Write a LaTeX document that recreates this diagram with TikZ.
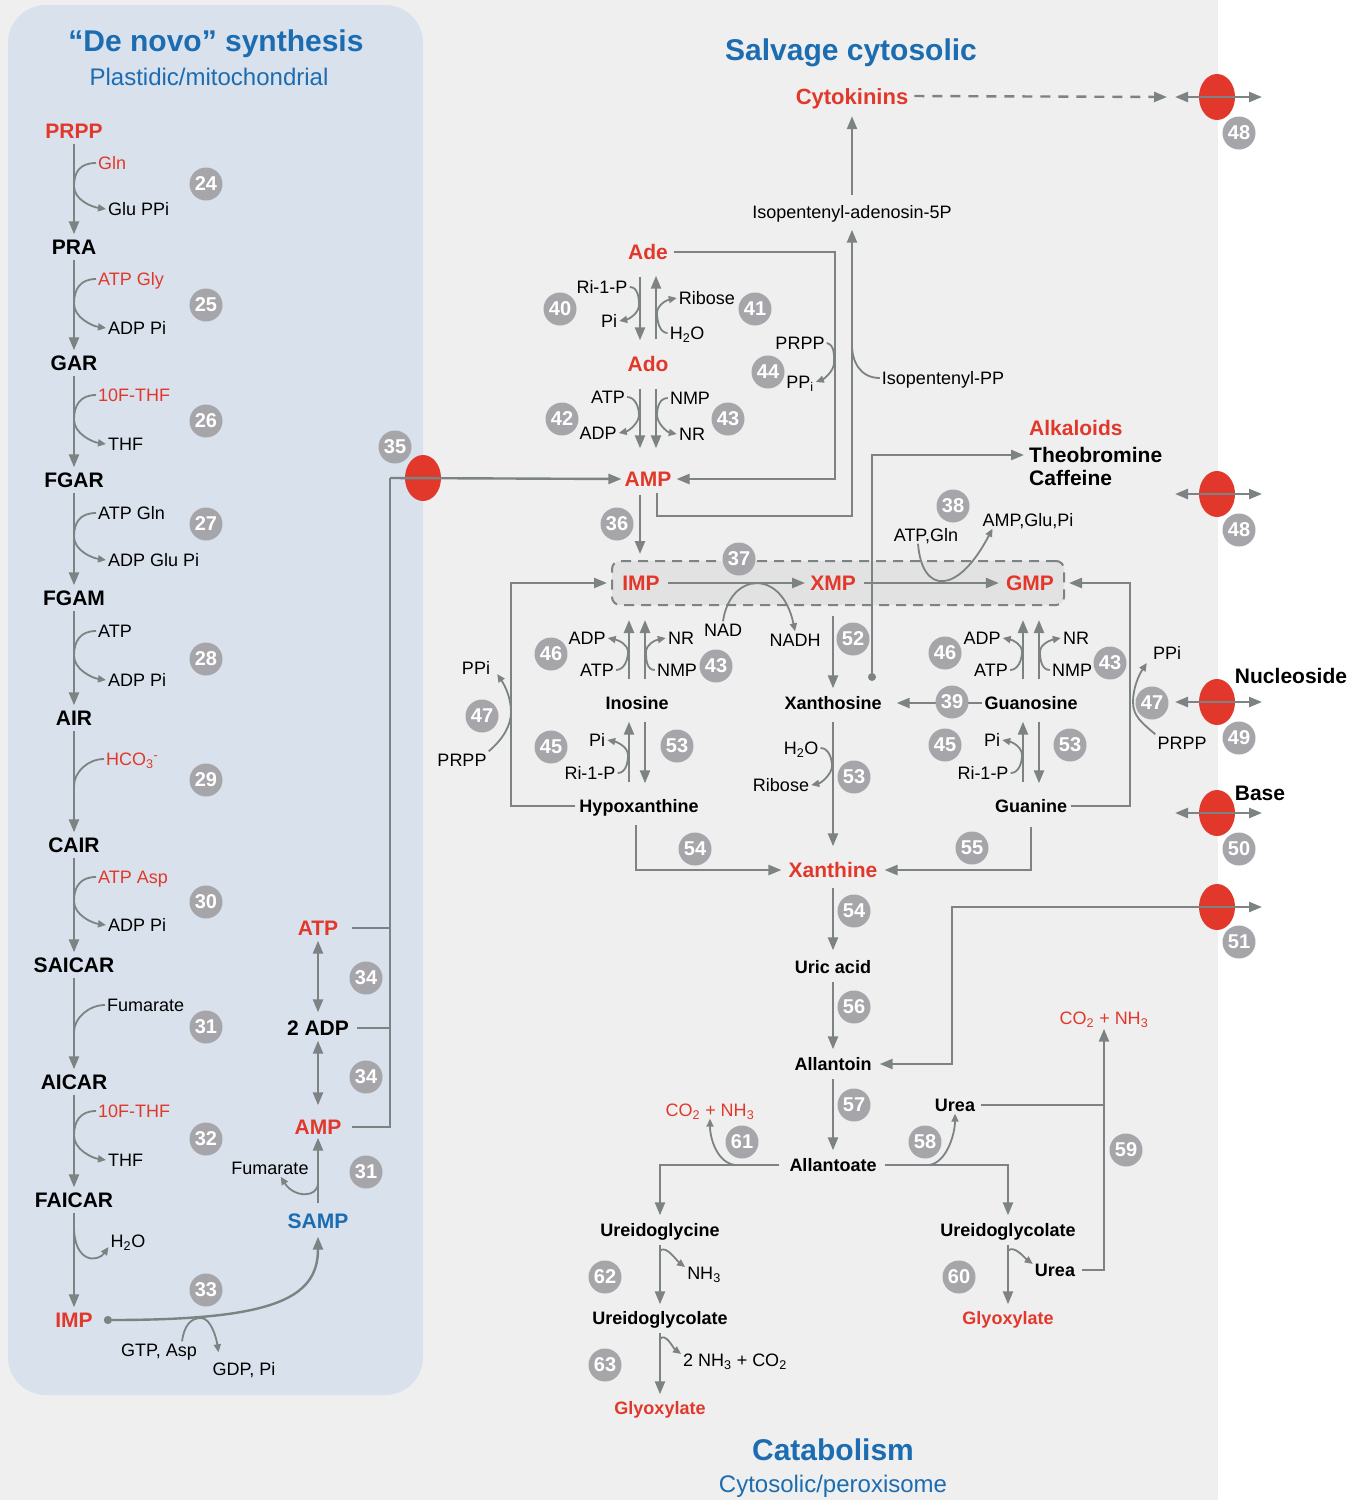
\documentclass[tikz,border=0pt]{standalone}
\usepackage{fontspec}
\setmainfont{Liberation Sans}
\usetikzlibrary{arrows.meta,shapes.geometric,calc}

\definecolor{pred}{RGB}{226,56,43}
\definecolor{pblue}{RGB}{28,108,178}
\definecolor{lgray}{RGB}{125,130,130}
\definecolor{ngray}{RGB}{166,166,170}
\definecolor{bggray}{RGB}{239,239,239}
\definecolor{panel}{RGB}{216,225,236}
\definecolor{hubfill}{RGB}{226,226,226}

\tikzset{
  txt/.style={inner sep=2pt, text depth=0pt},
  met/.style={txt, text height=15pt, font=\fontsize{21}{24}\selectfont\bfseries},
  metr/.style={met, text=pred},
  mets/.style={txt, text height=13pt, font=\fontsize{18}{21}\selectfont\bfseries},
  metsr/.style={mets, text=pred},
  sm/.style={txt, text height=13pt, font=\fontsize{18}{21}\selectfont},
  smr/.style={sm, text=pred},
  ttl/.style={txt, text height=21pt, text=pblue, font=\fontsize{30}{34}\selectfont\bfseries},
  subttl/.style={txt, text height=17pt, text=pblue, font=\fontsize{24}{28}\selectfont},
  num/.style={circle, fill=ngray, text=white, inner sep=0pt, minimum size=33pt, font=\fontsize{20}{20}\selectfont\bfseries},
  trans/.style={ellipse, fill=pred, inner sep=0pt, minimum width=36pt, minimum height=46pt},
  jdot/.style={circle, fill=lgray, inner sep=0pt, minimum size=8pt},
  hub/.style={draw=lgray, fill=hubfill, line width=2pt, dash pattern=on 10pt off 7pt, rounded corners=8pt, minimum width=452pt, minimum height=44pt},
  ln/.style={draw=lgray, line width=2.4pt},
  arr/.style={ln, -{Triangle[length=13pt,width=10pt]}, shorten <=3pt, shorten >=3pt},
  dbl/.style={ln, {Triangle[length=13pt,width=10pt]}-{Triangle[length=13pt,width=10pt]}},
  pr/.style={arr, shorten <=15pt, shorten >=14pt},
  hook/.style={draw=lgray, line width=1.8pt},
  hookarr/.style={hook, -{Triangle[length=8pt,width=7pt]}}
}

\begin{document}
\begin{tikzpicture}[x=1pt,y=-1pt]
\useasboundingbox (0,0) rectangle (1348,1500);
% backgrounds
\fill[white] (0,0) rectangle (1348,1500);
\fill[bggray] (0,0) rectangle (1218,1500);
\fill[panel, rounded corners=38pt] (8,5) rectangle (423,1395);

%%% de novo synthesis
\node[ttl] (dntitle) at (216,41) {“De novo” synthesis};
\node[subttl] (dnsub) at (209,77) {Plastidic/mitochondrial};

\node[metr] (prpp) at (74,131) {PRPP};
\node[met] (pra) at (74,247) {PRA};
\node[met] (gar) at (74,363) {GAR};
\node[met] (fgar) at (74,480) {FGAR};
\node[met] (fgam) at (74,598) {FGAM};
\node[met] (air) at (74,718) {AIR};
\node[met] (cair) at (74,845) {CAIR};
\node[met] (saicar) at (74,965) {SAICAR};
\node[met] (aicar) at (74,1082) {AICAR};
\node[met] (faicar) at (74,1200) {FAICAR};
\node[metr] (impl) at (74,1320) {IMP};

\foreach \a/\b in {prpp/pra,pra/gar,gar/fgar,fgar/fgam,fgam/air,air/cair,cair/saicar,saicar/aicar,aicar/faicar,faicar/impl}
  \draw[arr] (\a) -- (\b);

% cosubstrates
\node[smr, anchor=west] (t24) at (96,163) {Gln};
\node[sm, anchor=west] (b24) at (106,209) {Glu PPi};
\node[smr, anchor=west] (t25) at (96,279) {ATP Gly};
\node[sm, anchor=west] (b25) at (106,328) {ADP Pi};
\node[smr, anchor=west] (t26) at (96,395) {10F-THF};
\node[sm, anchor=west] (b26) at (106,444) {THF};
\node[sm, anchor=west] (t27) at (96,513) {ATP Gln};
\node[sm, anchor=west] (b27) at (106,560) {ADP Glu Pi};
\node[sm, anchor=west] (t28) at (96,631) {ATP};
\node[sm, anchor=west] (b28) at (106,680) {ADP Pi};
\node[smr, anchor=west] (t29) at (104,759) {HCO\textsubscript{3}\textsuperscript{-}};
\node[smr, anchor=west] (t30) at (96,877) {ATP Asp};
\node[sm, anchor=west] (b30) at (106,925) {ADP Pi};
\node[sm, anchor=west] (t31) at (105,1005) {Fumarate};
\node[smr, anchor=west] (t32) at (96,1111) {10F-THF};
\node[sm, anchor=west] (b32) at (106,1160) {THF};
\node[sm] (h2o) at (128,1241) {H\textsubscript{2}O};

\foreach \t/\b in {t24/b24,t25/b25,t26/b26,t27/b27,t28/b28,t30/b30,t32/b32}{
  \path ($(\t.west)!.5!(\b.west)$) coordinate (mid);
  \draw[hookarr] (\t.west) .. controls +(-16,0) and +(0,-14) .. (mid -| prpp)
    .. controls +(0,14) and +(-14,-2) .. (\b.west);
}
\draw[hook] (t29.west) .. controls +(-16,0) and +(0,-14) .. (74,786);
\draw[hook] (t31.west) .. controls +(-16,0) and +(0,-14) .. (74,1032);
\draw[hookarr] (74,1226) .. controls (74,1264) and (98,1262) .. ([yshift=-6pt]h2o.west);

% AMP branch
\node[metr] (atpl) at (318,928) {ATP};
\node[met] (adp2) at (318,1028) {2 ADP};
\node[metr] (ampl) at (318,1127) {AMP};
\node[met, text=pblue] (samp) at (318,1221) {SAMP};
\node[sm] (fumr) at (270,1168) {Fumarate};
\node[sm] (gtpasp) at (159,1350) {GTP, Asp};
\node[sm] (gdppi) at (244,1369) {GDP, Pi};

\draw[dbl, shorten <=3pt, shorten >=6pt] (atpl) -- (adp2);
\draw[dbl, shorten <=3pt, shorten >=12pt] (adp2) -- (ampl);
\draw[arr, shorten <=8pt, shorten >=1pt] (samp) -- (ampl);
\draw[hookarr] (318,1183) .. controls (318,1198) and (294,1198) .. ([xshift=-30pt]fumr.south east);
\draw[arr, {Circle[length=8pt]}-{Triangle[length=13pt,width=10pt]}, shorten <=9pt, shorten >=6pt]
  (impl.east) .. controls (270,1320) and (318,1300) .. (samp.south);
\draw[hookarr] ([xshift=-17pt]gtpasp.north east) .. controls +(2,-16) and +(-10,0) .. (201,1318)
  .. controls +(10,0) and +(-2,-14) .. ([xshift=8pt,yshift=8pt]gdppi.north west);

% export to salvage
\node[trans] (tr35) at (423,478) {};
\coordinate (jn) at (390,478);
\draw[ln, shorten <=12pt] (atpl.east) -- (atpl -| jn);
\draw[ln, shorten <=6pt] (adp2.east) -- (adp2 -| jn);

%%% salvage
\node[ttl] (svtitle) at (851,50) {Salvage cytosolic};
\node[txt, text height=16pt, text=pred, font=\fontsize{22}{25}\selectfont\bfseries] (cyto) at (852,96) {Cytokinins};
\node[sm] (ipa5p) at (852,212) {Isopentenyl-adenosin-5P};
\node[sm] (ippp) at (943,378) {Isopentenyl-PP};

\node[metr] (ade) at (648,252) {Ade};
\node[metr] (ado) at (648,364) {Ado};
\node[metr] (amps) at (648,479) {AMP};
\node[sm] (ri40) at (602,287) {Ri-1-P};
\node[sm] (pi40) at (609,321) {Pi};
\node[sm] (rib41) at (707,298) {Ribose};
\node[sm] (h2o41) at (687,333) {H\textsubscript{2}O};
\node[sm] (atp42) at (608,397) {ATP};
\node[sm] (adp42) at (598,433) {ADP};
\node[sm] (nmp43) at (690,398) {NMP};
\node[sm] (nr43) at (692,434) {NR};
\node[sm] (prpp44) at (800,343) {PRPP};
\node[sm] (ppi44) at (800,382) {PP\textsubscript{i}};

\draw[ln, shorten <=8pt] (ampl.east) -| (jn);
\draw[arr, shorten <=0pt, shorten >=1pt] (jn) -- (amps.west);

\draw[pr] ([xshift=-8pt]ade.south) -- ([xshift=-8pt]ado.north);
\draw[pr] ([xshift=8pt]ado.north) -- ([xshift=8pt]ade.south);
\draw[pr, shorten >=21pt] ([xshift=-8pt]ado.south) -- ([xshift=-8pt]amps.north);
\draw[pr, shorten >=21pt] ([xshift=8pt]ado.south) -- ([xshift=8pt]amps.north);
\draw[hookarr] (ri40.east) .. controls +(8,0) and +(0,-8) .. (639,305) .. controls +(0,8) and +(10,-2) .. (pi40.east);
\draw[hookarr] (h2o41.west) .. controls +(-8,0) and +(0,8) .. (657,313) .. controls +(0,-8) and +(-10,2) .. (rib41.west);
\draw[hookarr] (atp42.east) .. controls +(8,0) and +(0,-8) .. (639,415) .. controls +(0,8) and +(10,-2) .. (adp42.east);
\draw[hookarr] (nmp43.west) .. controls +(-8,0) and +(0,-8) .. (657,415) .. controls +(0,8) and +(-10,-2) .. (nr43.west);

\coordinate (adeR) at (835,252);
\draw[arr, shorten <=4pt, shorten >=3pt] (ade.east) -- (adeR) |- (amps.east);
\draw[hookarr] (prpp44.east) .. controls +(8,2) and +(0,-8) .. (834,363) .. controls +(0,8) and +(8,-3) .. (ppi44.east);

\coordinate (ampsR) at ([xshift=9pt]amps.south);
\coordinate (ipcorner) at (852,516);
\draw[arr, shorten <=4pt, shorten >=9pt] (ampsR) |- (ipcorner) -- (ipa5p.south);
\draw[arr, shorten <=8pt, shorten >=10pt] (ipa5p.north) -- (cyto.south);
\draw[hook] (ippp.west) .. controls +(-20,0) and +(0,16) .. (852,345);

\node[trans] (tr48a) at (1217,97) {};
\draw[arr, dash pattern=on 10pt off 8pt, shorten <=4pt, shorten >=0pt] (cyto.east) -- ([xshift=-50pt]tr48a.center);
\draw[dbl] ([xshift=-42pt]tr48a.center) -- ([xshift=45pt]tr48a.center);

% hub of IMP, XMP, GMP
\node[hub] (hub) at (838,583) {};
\node[metr] (imp) at (641,583) {IMP};
\node[metr] (xmp) at (833,583) {XMP};
\node[metr] (gmp) at (1030,583) {GMP};
\draw[arr, shorten <=6pt] (imp) -- (xmp);
\draw[arr, shorten <=6pt, shorten >=5pt] (xmp) -- (gmp);

\coordinate (ampsL) at ([xshift=-8pt]amps.south);
\draw[arr, shorten <=6pt, shorten >=6pt] (ampsL) -- (ampsL |- hub.north);

\node[sm] (nad) at (723,630) {NAD};
\node[sm] (nadh) at (795,640) {NADH};
\draw[hookarr] (nad.north) .. controls (730,572) and (782,568) .. (nadh.north);
\node[sm] (atpgln) at (926,535) {ATP,Gln};
\node[sm] (ampglu) at (1028,520) {AMP,Glu,Pi};
\draw[hookarr] ([xshift=-8pt]atpgln.south) .. controls (922,595) and (958,595) .. ([xshift=12pt]ampglu.south west);

\node[metr, anchor=west] (alk) at (1027,428) {Alkaloids};
\node[met, anchor=west] (theo) at (1027,455) {Theobromine};
\node[met, anchor=west] (caff) at (1027,478) {Caffeine};
\node[trans] (tr48b) at (1217,494) {};
\draw[dbl] ([xshift=-42pt]tr48b.center) -- ([xshift=45pt]tr48b.center);

% nucleosides
\node[mets] (inosine) at (637,703) {Inosine};
\node[mets] (xanthosine) at (833,703) {Xanthosine};
\node[mets] (guanosine) at (1031,703) {Guanosine};
\node[mets] (hypox) at (639,806) {Hypoxanthine};
\node[mets] (guanine) at (1031,806) {Guanine};
\node[jdot] (xdot) at (872,677) {};
\draw[arr, shorten <=0pt] (xdot) |- (theo.west);

\node[sm] (adp46) at (587,638) {ADP};
\node[sm] (atp46) at (597,670) {ATP};
\node[sm] (nr43b) at (681,638) {NR};
\node[sm] (nmp43b) at (677,670) {NMP};
\node[sm] (pi45) at (597,740) {Pi};
\node[sm] (ri45) at (590,773) {Ri-1-P};
\node[sm] (adp46b) at (982,638) {ADP};
\node[sm] (atp46b) at (991,670) {ATP};
\node[sm] (nr43c) at (1076,638) {NR};
\node[sm] (nmp43c) at (1072,670) {NMP};
\node[sm] (pi45b) at (992,740) {Pi};
\node[sm] (ri45b) at (983,773) {Ri-1-P};
\node[sm] (h2o53) at (801,748) {H\textsubscript{2}O};
\node[sm] (rib53) at (781,785) {Ribose};
\node[sm] (ppi47a) at (476,668) {PPi};
\node[sm] (prpp47a) at (462,760) {PRPP};
\node[sm] (ppi47b) at (1167,653) {PPi};
\node[sm] (prpp47b) at (1182,743) {PRPP};

\foreach \nd/\up/\dn in {inosine/inoL/inoLs, guanosine/guaL/guaLs}{
  \coordinate (\up) at ([xshift=-8pt]\nd.north);
  \coordinate (\dn) at ([xshift=-8pt]\nd.south);
}
\foreach \nd/\up/\dn in {inosine/inoR/inoRs, guanosine/guaR/guaRs}{
  \coordinate (\up) at ([xshift=8pt]\nd.north);
  \coordinate (\dn) at ([xshift=8pt]\nd.south);
}
\draw[pr] (inoL) -- (inoL |- hub.south);
\draw[pr] (inoR) -- (inoR |- hub.south);
\draw[pr] (guaL) -- (guaL |- hub.south);
\draw[pr] (guaR) -- (guaR |- hub.south);
\draw[pr, shorten >=10pt] (inoLs |- hypox.north) -- (inoLs);
\draw[pr, shorten <=10pt] (inoRs) -- (inoRs |- hypox.north);
\draw[pr, shorten >=10pt] (guaLs |- guanine.north) -- (guaLs);
\draw[pr, shorten <=10pt] (guaRs) -- (guaRs |- guanine.north);

\draw[hookarr] (atp46.east) .. controls +(8,0) and +(0,8) .. (628,652) .. controls +(0,-8) and +(10,2) .. (adp46.east);
\draw[hookarr] (nmp43b.west) .. controls +(-8,0) and +(0,8) .. (646,652) .. controls +(0,-8) and +(-10,2) .. (nr43b.west);
\draw[hookarr] (ri45.east) .. controls +(8,0) and +(0,8) .. (628,755) .. controls +(0,-8) and +(10,2) .. (pi45.east);
\draw[hookarr] (atp46b.east) .. controls +(8,0) and +(0,8) .. (1022,652) .. controls +(0,-8) and +(10,2) .. (adp46b.east);
\draw[hookarr] (nmp43c.west) .. controls +(-8,0) and +(0,8) .. (1040,652) .. controls +(0,-8) and +(-10,2) .. (nr43c.west);
\draw[hookarr] (ri45b.east) .. controls +(8,0) and +(0,8) .. (1022,755) .. controls +(0,-8) and +(10,2) .. (pi45b.east);

\draw[arr, shorten <=10pt, shorten >=6pt] (xmp |- hub.south) -- (xanthosine.north);
\draw[arr, shorten <=0pt, shorten >=13pt] (guanosine.west) -- (xanthosine.east);
\draw[arr, shorten <=2pt, shorten >=4pt] (hypox.west) -- ++(-66,0) |- (hub.west);
\draw[arr, shorten <=2pt, shorten >=4pt] (guanine.east) -- ++(61,0) |- (hub.east);
\draw[hookarr] (prpp47a.north east) .. controls +(14,-12) and +(0,14) .. (511,712) .. controls +(0,-14) and +(8,12) .. ([xshift=5pt,yshift=-6pt]ppi47a.east);
\draw[hookarr] (prpp47b.north west) .. controls +(-14,-12) and +(0,14) .. (1133,702) .. controls +(0,-14) and +(-8,12) .. ([xshift=-4pt,yshift=-10pt]ppi47b.west);

\node[trans] (tr49) at (1217,702) {};
\draw[dbl] ([xshift=-42pt]tr49.center) -- ([xshift=45pt]tr49.center);
\node[met] (nucl) at (1291,676) {Nucleoside};
\node[trans] (tr50) at (1217,813) {};
\draw[dbl] ([xshift=-42pt]tr50.center) -- ([xshift=45pt]tr50.center);
\node[met] (base) at (1260,793) {Base};

%%% catabolism
\node[metr] (xanthine) at (833,870) {Xanthine};
\node[mets] (uric) at (833,967) {Uric acid};
\node[mets] (allantoin) at (833,1064) {Allantoin};
\node[mets] (allantoate) at (833,1165) {Allantoate};
\draw[arr, shorten <=10pt, shorten >=14pt] (xanthosine) -- (xanthine);
\draw[hookarr] (h2o53.east) .. controls +(8,0) and +(0,-8) .. (832,766) .. controls +(0,8) and +(10,-2) .. (rib53.east);
\draw[arr, shorten <=10pt, shorten >=5pt] ([xshift=-3pt]hypox.south) |- (xanthine.west);
\draw[arr, shorten <=12pt, shorten >=5pt] (guanine.south) |- (xanthine.east);
\draw[arr, shorten <=8pt, shorten >=8pt] (xanthine) -- (uric);
\draw[arr, shorten <=6pt, shorten >=6pt] (uric) -- (allantoin);
\draw[arr, shorten <=6pt, shorten >=6pt] (allantoin) -- (allantoate);

\node[trans] (tr51) at (1217,907) {};
\draw[dbl, shorten <=6pt] (allantoin.east) -| ([xshift=-265pt]tr51.center) -- ([xshift=45pt]tr51.center);

\node[smr] (co2a) at (710,1110) {CO\textsubscript{2} + NH\textsubscript{3}};
\node[mets] (urea1) at (955,1105) {Urea};
\node[smr] (co2b) at (1104,1018) {CO\textsubscript{2} + NH\textsubscript{3}};
\node[mets] (ureidogly) at (660,1230) {Ureidoglycine};
\node[mets] (ureidoglc1) at (660,1318) {Ureidoglycolate};
\node[metsr] (glyox1) at (660,1408) {Glyoxylate};
\node[sm] (nh3) at (704,1273) {NH\textsubscript{3}};
\node[sm] (nh3co2) at (735,1360) {2 NH\textsubscript{3} + CO\textsubscript{2}};
\node[mets] (ureidoglc2) at (1008,1230) {Ureidoglycolate};
\node[metsr] (glyox2) at (1008,1318) {Glyoxylate};
\node[mets] (urea2) at (1055,1270) {Urea};

\draw[arr, shorten <=8pt, shorten >=6pt] (allantoate.west) -| (ureidogly.north);
\draw[arr, shorten <=6pt, shorten >=6pt] (allantoate.east) -| (ureidoglc2.north);
\draw[hookarr] ([xshift=-52pt]allantoate.west) .. controls +(-18,-2) and +(0,20) .. (co2a.south);
\draw[hookarr] ([xshift=50pt]allantoate.east) .. controls +(18,-2) and +(0,20) .. (urea1.south);
\draw[ln, shorten <=4pt] (urea1.east) -- (urea1.east -| co2b.south);
\draw[arr, shorten <=5pt, shorten >=2pt] (urea2.east) -| (co2b.south);

\draw[arr, shorten <=6pt, shorten >=5pt] (ureidogly) -- (ureidoglc1);
\draw[arr, shorten <=6pt, shorten >=5pt] (ureidoglc1) -- (glyox1);
\draw[arr, shorten <=6pt, shorten >=5pt] (ureidoglc2) -- (glyox2);
\draw[hookarr] ([yshift=-12pt]ureidogly.south) .. controls +(6,-6) and +(-8,-6) .. ([yshift=6pt]nh3.west);
\draw[hookarr] ([yshift=-12pt]ureidoglc1.south) .. controls +(6,-6) and +(-8,-6) .. ([yshift=6pt]nh3co2.west);
\draw[hookarr] ([yshift=-12pt]ureidoglc2.south) .. controls +(6,-6) and +(-8,-6) .. ([yshift=6pt]urea2.west);

\node[ttl] (cattitle) at (833,1450) {Catabolism};
\node[subttl] (catsub) at (833,1484) {Cytosolic/peroxisome};

% enzyme numbers
\foreach \n/\y in {24/184,25/305,26/421,27/524,28/659,29/780,30/902,31/1027,32/1139,33/1290}
  \node[num] (n\n) at (206,\y) {\n};
\foreach \nm/\n/\x/\y in {n34a/34/366/978, n34b/34/366/1077, n31b/31/366/1172, n35/35/395/447,
    n36/36/617/524, n37/37/739/559, n38/38/953/506, n39/39/952/702,
    n40/40/560/309, n41/41/755/309, n42/42/562/419, n43a/43/728/419, n44/44/768/372,
    n46a/46/551/654, n43b/43/716/666, n45a/45/551/747, n53a/53/677/746,
    n46b/46/945/653, n43c/43/1110/663, n45b/45/945/745, n53b/53/1070/745,
    n47a/47/482/716, n47b/47/1152/703,
    n48a/48/1239/133, n48b/48/1239/530, n49/49/1239/738, n50/50/1239/849, n51/51/1239/942,
    n52/52/853/639, n53c/53/854/777, n54a/54/695/849, n55/55/972/848, n54b/54/854/911,
    n56/56/854/1007, n57/57/854/1105, n58/58/925/1142, n59/59/1126/1150,
    n60/60/959/1277, n61/61/742/1142, n62/62/605/1277, n63/63/605/1365}
  \node[num] (\nm) at (\x,\y) {\n};
\end{tikzpicture}
\end{document}
